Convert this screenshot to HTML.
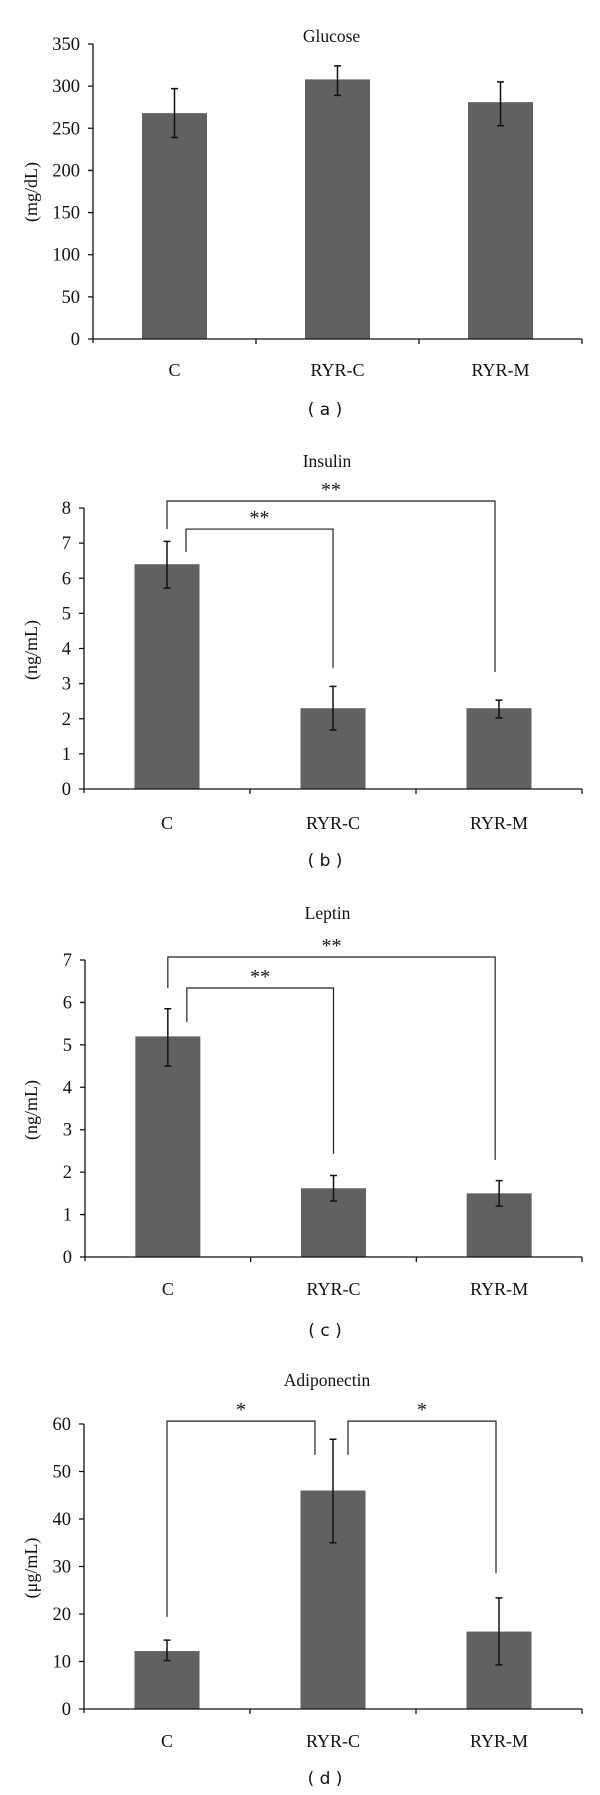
<!DOCTYPE html>
<html><head><meta charset="utf-8">
<style>
html,body{margin:0;padding:0;background:#fff;}
svg{display:block;}
text{font-family:"Liberation Serif",serif;fill:#111;}
.cap{font-family:"DejaVu Sans","Liberation Sans",sans-serif;}
</style></head>
<body>
<svg id="fig" width="600" height="1795" viewBox="0 0 600 1795" xmlns="http://www.w3.org/2000/svg"></svg>
<script>
const categories = ["C","RYR-C","RYR-M"];
const glucoseValues = [268, 308, 281];
const glucoseHigh = [297, 324, 305];
const glucoseLow = [239, 289, 253];
const glucoseTicks = [0,50,100,150,200,250,300,350];
const insulinValues = [6.4, 2.3, 2.3];
const insulinHigh = [7.05, 2.92, 2.53];
const insulinLow = [5.72, 1.68, 2.02];
const insulinTicks = [0,1,2,3,4,5,6,7,8];
const leptinValues = [5.2, 1.62, 1.5];
const leptinHigh = [5.85, 1.92, 1.8];
const leptinLow = [4.5, 1.32, 1.2];
const leptinTicks = [0,1,2,3,4,5,6,7];
const adipoValues = [12.2, 46, 16.3];
const adipoHigh = [14.5, 56.8, 23.4];
const adipoLow = [10.2, 35, 9.3];
const adipoTicks = [0,10,20,30,40,50,60];

const NS="http://www.w3.org/2000/svg";
const svg=document.getElementById('fig');
function mk(tag,attrs,parent){const e=document.createElementNS(NS,tag);for(const k in attrs)e.setAttribute(k,attrs[k]);(parent||svg).appendChild(e);return e;}

const panels=[
 {key:'a',title:'Glucose',unit:'(mg/dL)',vals:glucoseValues,hi:glucoseHigh,lo:glucoseLow,ticks:glucoseTicks,
  x0:93,x1:582,y0:339,yTop:44,titleY:36,labY:370,capY:415,unitY:192,brackets:[]},
 {key:'b',title:'Insulin',unit:'(ng/mL)',vals:insulinValues,hi:insulinHigh,lo:insulinLow,ticks:insulinTicks,
  x0:84,x1:582,y0:789,yTop:508,titleY:461,labY:823,capY:866,unitY:650,
  brackets:[{a:0,ao:0,aEnd:7.4,b:2,bo:-4,bEnd:3.33,top:8.2,star:'**'},{a:0,ao:19,aEnd:6.75,b:1,bo:0,bEnd:3.45,top:7.4,star:'**'}]},
 {key:'c',title:'Leptin',unit:'(ng/mL)',vals:leptinValues,hi:leptinHigh,lo:leptinLow,ticks:leptinTicks,
  x0:85,x1:582,y0:1257,yTop:960,titleY:913,labY:1289,capY:1336,unitY:1110,
  brackets:[{a:0,ao:0,aEnd:6.34,b:2,bo:-4,bEnd:2.29,top:7.07,star:'**'},{a:0,ao:19,aEnd:5.54,b:1,bo:0,bEnd:2.43,top:6.34,star:'**'}]},
 {key:'d',title:'Adiponectin',unit:'(μg/mL)',vals:adipoValues,hi:adipoHigh,lo:adipoLow,ticks:adipoTicks,
  x0:84,x1:582,y0:1709,yTop:1424,titleY:1380,labY:1741,capY:1784,unitY:1568,
  brackets:[{a:0,ao:0,aEnd:19.4,b:1,bo:-18,bEnd:53.5,top:60.6,star:'*'},{a:1,ao:15,aEnd:53.5,b:2,bo:-3,bEnd:28.6,top:60.6,star:'*'}]}
];

panels.forEach(p=>{
  const g=mk('g',{});
  
  
  const maxT=p.ticks[p.ticks.length-1];
  const yS=v=>p.y0-(v/maxT)*(p.y0-p.yTop);
  const band=(p.x1-p.x0)/categories.length;
  const xC=i=>p.x0+band*(i+0.5);
  const barW=65;

  const t=mk('text',{x:(p.x0+p.x1)/2-6,y:p.titleY+6,'text-anchor':'middle','font-size':'17.5'},g);
  t.textContent=p.title;
  
  

  const u=mk('text',{x:0,y:0,'text-anchor':'middle','font-size':'18',transform:`translate(37,${p.unitY}) rotate(-90)`},g);
  u.textContent=p.unit;
  
  

  p.vals.forEach((v,i)=>{
    const r=mk('rect',{x:xC(i)-barW/2,y:yS(v),width:barW,height:p.y0-yS(v),fill:'#616161'},g);
    
    
    const eb=mk('path',{d:`M${xC(i)} ${yS(p.hi[i])}V${yS(p.lo[i])}M${xC(i)-3.5} ${yS(p.hi[i])}H${xC(i)+3.5}M${xC(i)-3.5} ${yS(p.lo[i])}H${xC(i)+3.5}`,stroke:'#111','stroke-width':'1.5',fill:'none'},g);
    
    
    const lb=mk('text',{x:xC(i),y:p.labY+6,'text-anchor':'middle','font-size':'18'},g);
    lb.textContent=categories[i];
    
    
  });

  let d=`M${p.x0} ${p.yTop}V${p.y0+4}M${p.x0} ${p.y0}H${p.x1}`;
  for(let i=1;i<=categories.length;i++){const x=p.x0+band*i;d+=`M${x} ${p.y0}V${p.y0+5}`;}
  p.ticks.forEach(tv=>{d+=`M${p.x0-5} ${yS(tv)}H${p.x0}`;});
  const ax=mk('path',{d:d,stroke:'#111','stroke-width':'1.3',fill:'none'},g);
  
  
  p.ticks.forEach(tv=>{
    const tl=mk('text',{x:p.x0-13,y:yS(tv)+6,'text-anchor':'end','font-size':'18.5'},g);
    tl.textContent=tv;
    
    
  });

  p.brackets.forEach(b=>{
    const xa=xC(b.a)+b.ao, xb=xC(b.b)+b.bo;
    const br=mk('path',{d:`M${xa} ${yS(b.aEnd)}V${yS(b.top)}H${xb}V${yS(b.bEnd)}`,stroke:'#222','stroke-width':'1.2',fill:'none'},g);
    
    
    const st=mk('text',{x:(xa+xb)/2,y:yS(b.top)-5,'text-anchor':'middle','font-size':'20'},g);
    st.textContent=b.star;
    
    
  });

  const cp=mk('text',{x:325,y:p.capY,'text-anchor':'middle','font-size':'17',class:'cap'},g);
  cp.textContent='( '+p.key+' )';
  
  
});
</script>
</body></html>
